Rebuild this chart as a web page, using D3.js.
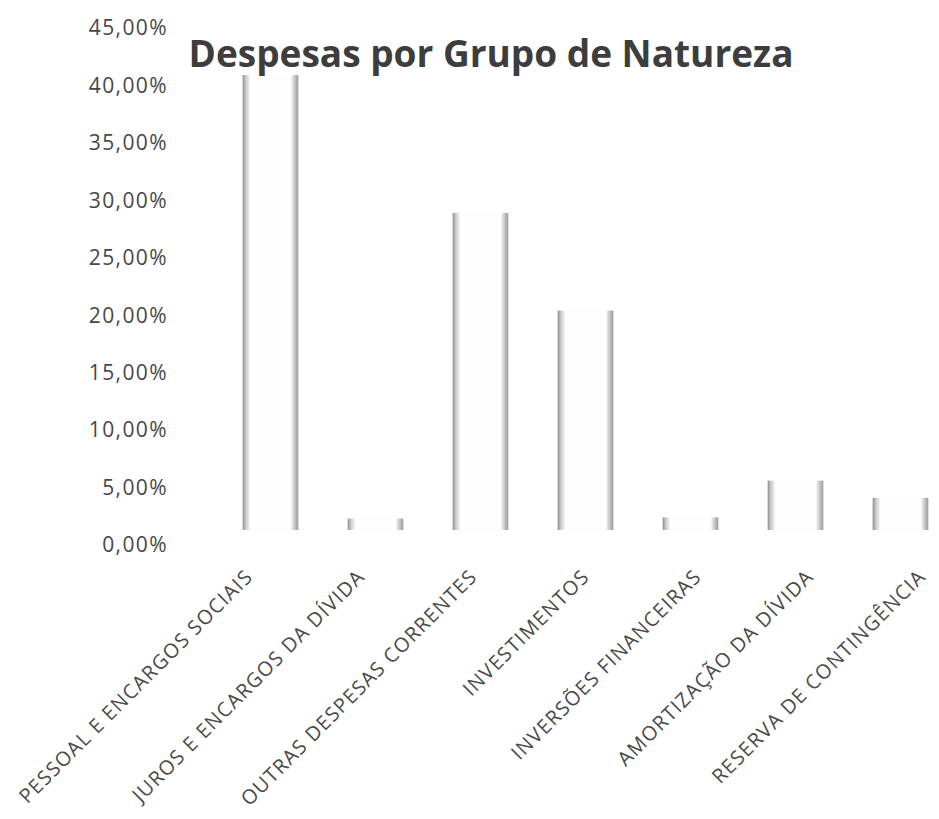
<!DOCTYPE html>
<html>
<head>
<meta charset="utf-8">
<script src="https://cdn.jsdelivr.net/npm/d3@7"></script>
<style>
    body { margin: 0; background: #fff; }
    #chart { display: block; }
    .tick_value_y { font-family: "Open Sans", sans-serif; font-size: 21px; fill: #474747; letter-spacing: 1.4px; }
    .tick_value_x { font-family: "Open Sans", sans-serif; font-size: 20px; fill: #4a4a4a; letter-spacing: 1.2px; }
    .title { font-family: "Open Sans", sans-serif; font-size: 37px; font-weight: bold; fill: #3d3d3d; }
</style>
</head>
<body>
<svg id="chart" width="939" height="819"></svg>
<script>
let categories = [
    "PESSOAL E ENCARGOS SOCIAIS",
    "JUROS E ENCARGOS DA DÍVIDA",
    "OUTRAS DESPESAS CORRENTES",
    "INVESTIMENTOS",
    "INVERSÕES FINANCEIRAS",
    "AMORTIZAÇÃO DA DÍVIDA",
    "RESERVA DE CONTINGÊNCIA"
];

// share of total, in percent
let values = [39.6, 1.0, 27.6, 19.1, 1.1, 4.3, 2.8];

let tick_values = [0, 5, 10, 15, 20, 25, 30, 35, 40, 45];
let tick_labels = ["0,00%", "5,00%", "10,00%", "15,00%", "20,00%", "25,00%", "30,00%", "35,00%", "40,00%", "45,00%"];

let chart_title = "Despesas por Grupo de Natureza";

let svg = d3.select("#chart");

let yScale = d3.scaleLinear()
    .domain([0, 45])
    .range([545, 28]);

// bars sit on the back wall of the 3D plot
let xScale = d3.scaleBand()
    .domain(categories)
    .range([218, 953])
    .paddingInner(0.47)
    .paddingOuter(0.235);

// category labels sit on the front edge of the floor
let labelScale = d3.scalePoint()
    .domain(categories)
    .range([254, 927]);

let depth = 15;

let defs = svg.append("defs");
let grad = defs.append("linearGradient")
    .attr("id", "cyl")
    .attr("x1", "0%").attr("x2", "100%")
    .attr("y1", "0%").attr("y2", "0%");
[[0, "#8c8c8c"], [0.05, "#c4c4c4"], [0.14, "#fdfdfd"], [0.86, "#fdfdfd"], [0.93, "#c9c9c9"], [1, "#9a9a9a"]]
    .forEach(s => grad.append("stop").attr("offset", s[0]).attr("stop-color", s[1]));

function drawAxis() {
    svg.append("g")
        .selectAll(".tick_value_y")
        .data(tick_values)
        .enter()
        .append("text")
        .attr("class", "tick_value_y")
        .attr("x", 168)
        .attr("y", d => yScale(d))
        .attr("dy", "0.35em")
        .attr("text-anchor", "end")
        .text((d, i) => tick_labels[i]);

    svg.append("g")
        .selectAll(".tick_value_x")
        .data(categories)
        .enter()
        .append("text")
        .attr("class", "tick_value_x")
        .attr("text-anchor", "end")
        .attr("transform", d => "translate(" + labelScale(d) + ",578) rotate(-45)")
        .text(d => d);
}

function drawBars() {
    let g = svg.append("g")
        .attr("transform", "translate(0," + (-depth) + ")");

    g.selectAll(".bar")
        .data(values)
        .enter()
        .append("rect")
        .attr("class", "bar")
        .attr("x", (d, i) => xScale(categories[i]))
        .attr("width", xScale.bandwidth())
        .attr("y", d => yScale(d))
        .attr("height", d => yScale(0) - yScale(d))
        .attr("fill", "url(#cyl)");
}

function drawTitle() {
    svg.append("text")
        .attr("class", "title")
        .attr("x", 491)
        .attr("y", 67)
        .attr("text-anchor", "middle")
        .text(chart_title);
}

drawBars();
drawAxis();
drawTitle();
</script>
</body>
</html>
